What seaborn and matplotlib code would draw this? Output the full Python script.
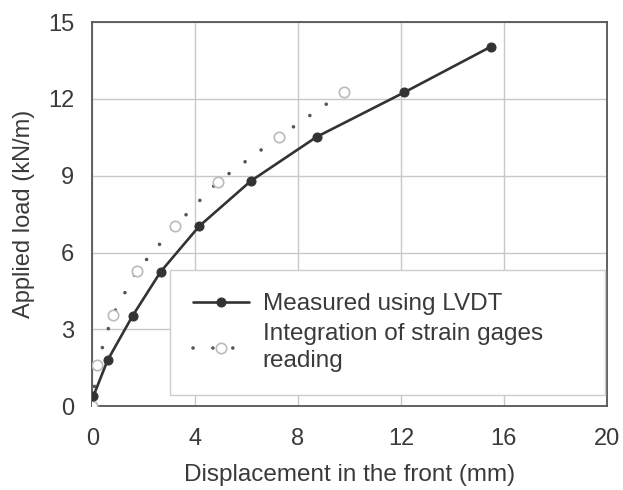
import matplotlib
matplotlib.use("Agg")
import matplotlib.pyplot as plt
import seaborn as sns
import pandas as pd

lvdt_x = [0.05, 0.6, 1.57, 2.66, 4.16, 6.16, 8.73, 12.12, 15.5]
lvdt_y = [0.4, 1.8, 3.53, 5.25, 7.03, 8.79, 10.52, 12.25, 14.04]

sg_x = [0.0, 0.18, 0.79, 1.74, 3.22, 4.88, 7.26, 9.8]
sg_y = [0.0, 1.6, 3.55, 5.29, 7.03, 8.76, 10.52, 12.28]

x_ticks = [0, 4, 8, 12, 16, 20]
y_ticks = [0, 3, 6, 9, 12, 15]

sns.set_theme(style="white")
plt.rcParams['font.family'] = ['Liberation Sans', 'DejaVu Sans']

fig = plt.figure(figsize=(6.23, 4.9), dpi=100)
ax = fig.add_axes([0.148, 0.171, 0.826, 0.784])

df1 = pd.DataFrame({"x": lvdt_x, "y": lvdt_y})
df2 = pd.DataFrame({"x": sg_x, "y": sg_y})

sns.lineplot(data=df1, x="x", y="y", ax=ax, color="#333333", linewidth=1.9,
             marker="o", markersize=6.5, markerfacecolor="#333333",
             markeredgecolor="#333333", sort=False, label="Measured using LVDT", zorder=4)
sns.lineplot(data=df2, x="x", y="y", ax=ax, color="#555555", linewidth=2.6,
             linestyle=(0, (0.01, 5.5)), dash_capstyle="round",
             marker="o", markersize=7.5, markerfacecolor="white",
             markeredgecolor="#bbbbbb", markeredgewidth=1.2, sort=False,
             label="Integration of strain gages\nreading", zorder=3)

ax.set_xlim(0, 20)
ax.set_ylim(0, 15)
ax.set_xticks(x_ticks)
ax.set_yticks(y_ticks)
ax.grid(True, color="#c8c8c8", linewidth=1.0)
ax.set_axisbelow(True)
for s in ax.spines.values():
    s.set_color("#555555")
    s.set_linewidth(1.3)
ax.tick_params(axis="both", labelsize=17, colors="#3a3a3a", length=0)
ax.tick_params(axis="x", pad=16)
ax.tick_params(axis="y", pad=13)
ax.set_xlabel("Displacement in the front (mm)", fontsize=17.5, color="#3a3a3a", labelpad=10)
ax.set_ylabel("Applied load (kN/m)", fontsize=17, color="#3a3a3a", labelpad=9)

leg = ax.legend(loc="lower left", bbox_to_anchor=(0.1515, 0.0286, 0.8445, 0.33),
                mode="expand", borderaxespad=0, fontsize=17.5, frameon=True, fancybox=False,
                handlelength=2.3, handletextpad=0.55, borderpad=0.95, labelspacing=0.33,
                labelcolor="#3a3a3a")
for t in leg.get_texts():
    t.set_linespacing(1.3)
leg.get_frame().set_edgecolor("#cccccc")
leg.get_frame().set_facecolor("white")
leg.get_frame().set_alpha(1)

fig.savefig("out.png", dpi=100, facecolor="white")
